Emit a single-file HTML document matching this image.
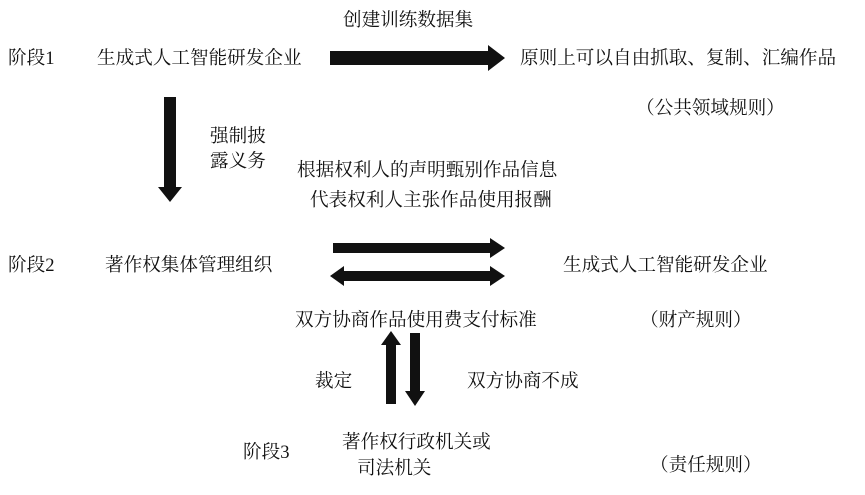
<!DOCTYPE html>
<html><head><meta charset="utf-8"><style>
html,body{margin:0;padding:0;background:#fff;}
svg{display:block}
text{font-family:"Liberation Serif","Noto Serif CJK SC",serif;font-size:18.6px;fill:#111;}
</style></head><body>
<svg width="865" height="495" viewBox="0 0 865 495" xmlns="http://www.w3.org/2000/svg">
<text x="8" y="64">阶段1</text>
<text x="97" y="64">生成式人工智能研发企业</text>
<text x="343" y="26">创建训练数据集</text>
<text x="520" y="64">原则上可以自由抓取、复制、汇编作品</text>
<text x="636" y="114">（公共领域规则）</text>
<polygon fill="#111" points="330,51 488,51 488,45 505,58 488,71 488,65 330,65"/>
<polygon fill="#111" points="164,97 176,97 176,187 182,187 170,202 158,187 164,187"/>
<text x="210" y="142">强制披</text>
<text x="210" y="167">露义务</text>
<text x="297" y="176">根据权利人的声明甄别作品信息</text>
<text x="310" y="206">代表权利人主张作品使用报酬</text>
<text x="8" y="271">阶段2</text>
<text x="105" y="271">著作权集体管理组织</text>
<text x="563" y="271">生成式人工智能研发企业</text>
<polygon fill="#111" points="333,243 490,243 490,238 505,248 490,258 490,253 333,253"/>
<polygon fill="#111" points="330,276 344,266 344,271 490,271 490,266 505,276 490,286 490,281 344,281 344,286"/>
<text x="295" y="326">双方协商作品使用费支付标准</text>
<text x="640" y="326">（财产规则）</text>
<polygon fill="#111" points="391,331 401,345 396,345 396,404 386,404 386,345 381,345"/>
<polygon fill="#111" points="410,333 420,333 420,391 425,391 415,406 405,391 410,391"/>
<text x="315" y="387">裁定</text>
<text x="467" y="387">双方协商不成</text>
<text x="243" y="458">阶段3</text>
<text x="342" y="448">著作权行政机关或</text>
<text x="357" y="474">司法机关</text>
<text x="650" y="471">（责任规则）</text>
</svg>
</body></html>
